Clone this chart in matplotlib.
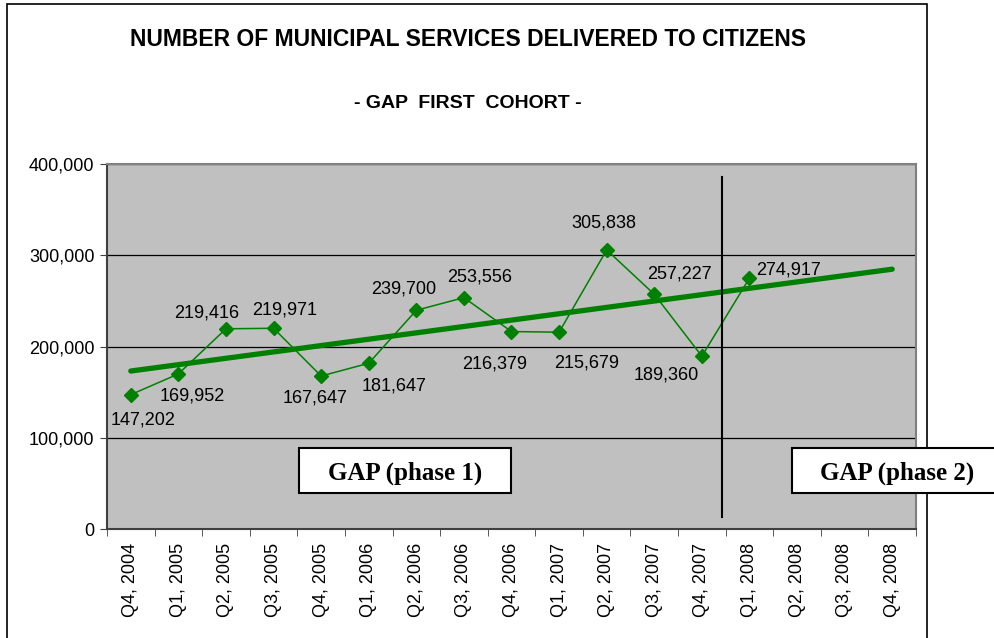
import numpy as np
import matplotlib
matplotlib.use('Agg')
import matplotlib.pyplot as plt
from matplotlib.patches import Rectangle

quarters = ['Q4, 2004', 'Q1, 2005', 'Q2, 2005', 'Q3, 2005', 'Q4, 2005',
            'Q1, 2006', 'Q2, 2006', 'Q3, 2006', 'Q4, 2006', 'Q1, 2007',
            'Q2, 2007', 'Q3, 2007', 'Q4, 2007', 'Q1, 2008', 'Q2, 2008',
            'Q3, 2008', 'Q4, 2008']
services = [147202, 169952, 219416, 219971, 167647, 181647, 239700,
            253556, 216379, 215679, 305838, 257227, 189360, 274917]
y_ticks = [0, 100000, 200000, 300000, 400000]

# label offsets in pixels (excel put them all over the place)
label_off = [(12, -25), (14, -22), (-19, 16), (11, 18), (-6, -22), (25, -23),
             (-13, 21), (16, 21), (-17, -32), (28, -31), (-3, 27), (25, 20),
             (-36, -19), (39, 8)]

plt.rcParams['font.family'] = ['Liberation Sans', 'DejaVu Sans']

fig = plt.figure(figsize=(9.95, 6.38), dpi=100)
fig.patches.append(Rectangle((7/995, -0.1), 920/995, 1.1 - 4/638, transform=fig.transFigure,
                             fill=False, edgecolor='black', linewidth=1.2))

ax = fig.add_axes([107/995, 1 - 529/638, 809/995, 365/638])
ax.set_facecolor('#C0C0C0')

x = np.arange(len(services))
ax.plot(x, services, color='#008000', linewidth=1.1, marker='D', markersize=7, zorder=3)

# linear trend, extended to the end of the axis
k, b = np.polyfit(x, services, 1)
xt = np.array([0, len(quarters) - 1])
ax.plot(xt, k * xt + b, color='#008000', linewidth=3.8, solid_capstyle='round', zorder=2)

for i, v in enumerate(services):
    ax.annotate(f'{v:,}', (i, v), xytext=label_off[i], textcoords='offset pixels',
                ha='center', va='center', fontsize=13, color='black')

ax.set_xlim(-0.5, len(quarters) - 0.5)
ax.set_ylim(0, 400000)
ax.set_yticks(y_ticks)
ax.set_yticklabels([f'{t:,}' for t in y_ticks], fontsize=13)
ax.set_xticks(np.arange(len(quarters)))
ax.set_xticks(np.arange(-0.5, len(quarters)), minor=True)
ax.set_xticklabels(quarters, rotation=90, fontsize=13)
ax.tick_params(axis='x', which='major', length=0, pad=10)
ax.tick_params(axis='x', which='minor', length=5, color='#404040')
ax.tick_params(axis='y', length=5, color='#404040', pad=4)
ax.grid(axis='y', color='black', linewidth=0.9)
ax.set_axisbelow(True)
for s in ['left', 'bottom']:
    ax.spines[s].set_color('#404040')
    ax.spines[s].set_linewidth(1.5)
for s in ['top', 'right']:
    ax.spines[s].set_color('#808080')
    ax.spines[s].set_linewidth(1.5)

# phase split
ax.plot([12.42, 12.42], [13000, 386000], color='black', linewidth=1.5, zorder=4)

fig.patches.append(Rectangle((299/995, 1 - 493/638), 212/995, 45/638, transform=fig.transFigure,
                             facecolor='white', edgecolor='black', linewidth=1.5, zorder=5))
fig.patches.append(Rectangle((792/995, 1 - 493/638), 220/995, 45/638, transform=fig.transFigure,
                             facecolor='white', edgecolor='black', linewidth=1.5, zorder=5))
fig.text(405/995, 1 - 473/638, 'GAP (phase 1)', ha='center', va='center',
         fontsize=18, fontweight='bold', family='Liberation Serif', zorder=6)
fig.text(897/995, 1 - 473/638, 'GAP (phase 2)', ha='center', va='center',
         fontsize=18, fontweight='bold', family='Liberation Serif', zorder=6)

fig.text(468/995, 1 - 40/638, 'NUMBER OF MUNICIPAL SERVICES DELIVERED TO CITIZENS',
         ha='center', va='center', fontsize=16.5, fontweight='bold')
fig.text(468/995, 1 - 103/638, '- GAP  FIRST  COHORT -',
         ha='center', va='center', fontsize=14, fontweight='bold')

fig.savefig('out.png', dpi=100)
